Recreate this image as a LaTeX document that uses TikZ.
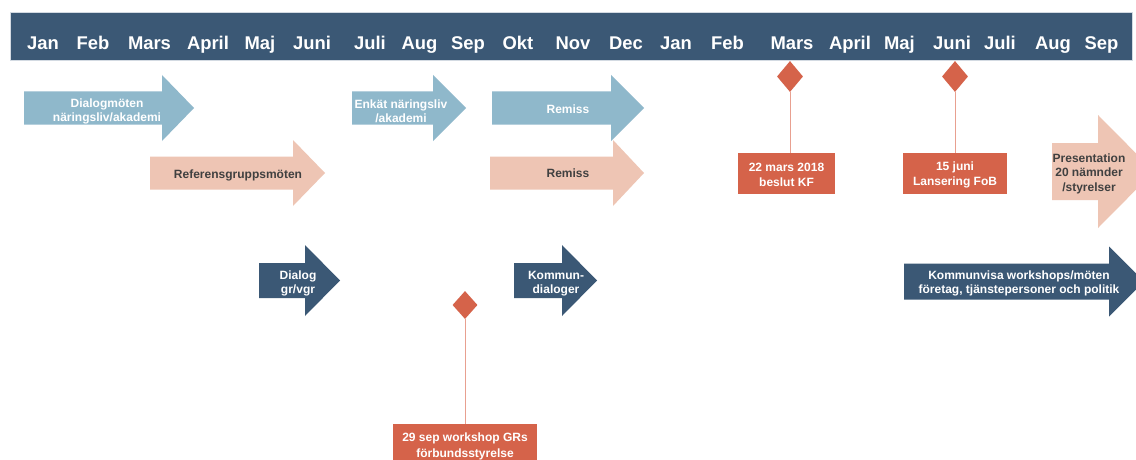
\documentclass[tikz,border=0pt]{standalone}
\usepackage{fontspec}
\setmainfont{Liberation Sans}
\usetikzlibrary{shapes.geometric}
\definecolor{navy}{HTML}{3B5875}
\definecolor{lblue}{HTML}{8FB8CB}
\definecolor{lpink}{HTML}{EEC5B4}
\definecolor{mred}{HTML}{D5634A}
\definecolor{stemcol}{HTML}{E8A090}
\definecolor{darktext}{HTML}{404040}
\definecolor{barline}{HTML}{D3DAE2}
% block arrow: #1 colour, #2 left x, #3 head base x, #4 tip x, #5 centre y, #6 half body, #7 half head
\newcommand\blockarrow[7]{%
  \fill[#1] (#2,#5-#6) -- (#3,#5-#6) -- (#3,#5-#7) -- (#4,#5) -- (#3,#5+#7)
    -- (#3,#5+#6) -- (#2,#5+#6) -- cycle;}
\tikzset{
  month/.style={font=\bfseries\fontsize{18.4}{20}\selectfont, text=white, anchor=base, inner sep=0pt},
  lbl/.style={font=\bfseries\fontsize{12}{14.5}\selectfont, align=center, inner sep=0pt},
  onblue/.style={lbl, text=white},
  onpink/.style={lbl, text=darktext},
  mile/.style={diamond, fill=mred, inner sep=0pt, minimum width=26pt, minimum height=31pt},
  evbox/.style={rectangle, fill=mred, minimum height=41pt},
  evtext/.style={lbl, text=white},
  stem/.style={draw=stemcol, line width=1pt}
}
\begin{document}
\begin{tikzpicture}[x=1pt, y=-1pt]
\useasboundingbox (0,0) rectangle (1136,460);
\clip (0,0) rectangle (1136,460);
\fill[white] (0,0) rectangle (1136,460);
% month bar
\fill[navy, draw=barline, line width=0.8pt] (10,12) rectangle (1132,60);
\foreach \n/\x/\t in {1/43/Jan, 2/93/Feb, 3/149.5/Mars, 4/208/April, 5/260/Maj, 6/312/Juni,
  7/370/Juli, 8/419.5/Aug, 9/468/Sep, 10/518/Okt, 11/573/Nov, 12/626/Dec, 13/676/Jan,
  14/727.5/Feb, 15/792/Mars, 16/850/April, 17/899.5/Maj, 18/952/Juni, 19/1000/Juli,
  20/1053/Aug, 21/1101.5/Sep}
  \node[month] (m\n) at (\x,49.5) {\t};
% arrows
\blockarrow{lblue}{24}{162}{194}{108}{16.5}{33}
\node[onblue] (a1) at (107,111.5) {Dialogmöten\\näringsliv/akademi};
\blockarrow{lpink}{150}{293}{325}{173}{16.5}{33}
\node[onpink] (a2) at (238,175.5) {Referensgruppsmöten};
\blockarrow{lblue}{352}{433}{466}{108}{16.5}{33}
\node[onblue] (a3) at (401,111.5) {Enkät näringsliv\\/akademi};
\blockarrow{lblue}{492}{611}{644}{108}{16.5}{33}
\node[onblue] (a4) at (568,109) {Remiss};
\blockarrow{lpink}{490}{613}{644}{173}{16.5}{33}
\node[onpink] (a5) at (568,173) {Remiss};
\blockarrow{navy}{259}{305}{340}{280.5}{17.5}{35.5}
\node[onblue] (a6) at (298,283.5) {Dialog\\gr/vgr};
\blockarrow{navy}{514}{562}{597}{280.5}{17.5}{35.5}
\node[onblue] (a7) at (556,283.5) {Kommun-\\dialoger};
\blockarrow{lpink}{1052}{1098}{1154}{171.5}{28.5}{56.5}
\node[onpink] (a8) at (1089,173.5) {Presentation\\20 nämnder\\/styrelser};
\blockarrow{navy}{904}{1109}{1144}{281.5}{18}{35}
\node[onblue] (a9) at (1019,283.5) {Kommunvisa workshops/möten\\företag, tjänstepersoner och politik};
% milestones
\node[mile] (d1) at (790,76.5) {};
\node[mile] (d2) at (955,76.5) {};
\node[mile, minimum width=25pt, minimum height=28pt] (d3) at (465,305) {};
\node[evbox, minimum width=97pt] (b1) at (786.5,173.5) {};
\node[evtext] (t1) at (786.5,175) {22 mars 2018\\beslut KF};
\node[evbox, minimum width=104pt] (b2) at (955,173.5) {};
\node[evtext] (t2) at (955,175) {15 juni\\Lansering FoB};
\node[evbox, minimum width=144pt] (b3) at (465,444.5) {};
\node[evtext, font=\bfseries\fontsize{12}{16}\selectfont] (t3) at (465,446.5) {29 sep workshop GRs\\förbundsstyrelse};
\draw[stem] (d1.south) -- (d1.south |- b1.north);
\draw[stem] (d2.south) -- (d2.south |- b2.north);
\draw[stem] (d3.south) -- (d3.south |- b3.north);
\end{tikzpicture}
\end{document}
